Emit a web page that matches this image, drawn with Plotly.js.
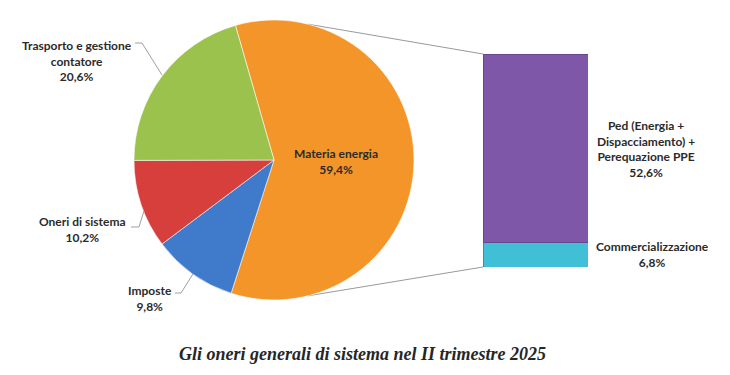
<!DOCTYPE html>
<html>
<head>
<meta charset="utf-8">
<script src="https://cdn.plot.ly/plotly-3.0.1.min.js"></script>
<style>
  html, body { margin: 0; padding: 0; background: #ffffff; }
  #chart { width: 730px; height: 375px; }
</style>
</head>
<body>
<div id="chart"></div>
<script>
// ---- data ----
const pieLabels = ["Materia energia", "Imposte", "Oneri di sistema", "Trasporto e gestione<br>contatore"];
const pieValues = [59.4, 9.8, 10.2, 20.6];
const pieColors = ["#F4952A", "#3F7ACB", "#D63F3C", "#9CC24E"];

const barLabels = ["Commercializzazione", "Ped (Energia +<br>Dispacciamento) +<br>Perequazione PPE"];
const barValues = [6.8, 52.6];
const barColors = ["#41BFD6", "#7F57A9"];

const captionText = "Gli oneri generali di sistema nel II trimestre 2025";

// ---- layout geometry (style) ----
const W = 730, H = 375;
const pieCx = 274, pieCy = 160, pieR = 140;
const pieRotation = -16;
const barX0 = 483, barX1 = 588, barTop = 54, barBottom = 267;

const fmt = v => v.toFixed(1).replace('.', ',') + '%';
const barTotal = barValues.reduce((a, b) => a + b, 0);

const pieTrace = {
  type: 'pie',
  labels: pieLabels,
  values: pieValues,
  sort: false,
  direction: 'clockwise',
  rotation: pieRotation,
  textinfo: 'none',
  hoverinfo: 'label+percent',
  showlegend: false,
  marker: { colors: pieColors, line: { color: 'rgba(255,255,255,0.55)', width: 1 } },
  domain: { x: [(pieCx - pieR) / W, (pieCx + pieR) / W], y: [1 - (pieCy + pieR) / H, 1 - (pieCy - pieR) / H] }
};

const barTraces = barValues.map((v, i) => ({
  type: 'bar',
  x: [0],
  y: [v],
  width: [1],
  name: barLabels[i],
  marker: { color: barColors[i], line: { color: 'rgba(60,40,90,0.35)', width: 1 } },
  showlegend: false,
  hoverinfo: 'name+y',
  xaxis: 'x', yaxis: 'y'
}));

// label annotations
const font = { family: 'Lato, "Open Sans", sans-serif', size: 12, color: '#2b2b2b', weight: 'bold' };
const labelPos = [
  { x: 336, y: 162 },   // Materia energia
  { x: 150, y: 298 },   // Imposte
  { x: 82, y: 230 },    // Oneri
  { x: 77, y: 61 }      // Trasporto
];
const annotations = [];
pieLabels.forEach((lab, i) => {
  annotations.push({
    xref: 'paper', yref: 'paper', x: labelPos[i].x / W, y: 1 - labelPos[i].y / H,
    xanchor: 'center', yanchor: 'middle', showarrow: false, align: 'center',
    text: '<b>' + lab + '<br>' + fmt(pieValues[i]) + '</b>', font: font
  });
});
const barLabelPos = [ { x: 652, y: 254 }, { x: 646, y: 149 } ];
barLabels.forEach((lab, i) => {
  annotations.push({
    xref: 'paper', yref: 'paper', x: barLabelPos[i].x / W, y: 1 - barLabelPos[i].y / H,
    xanchor: 'center', yanchor: 'middle', showarrow: false, align: 'center',
    text: '<b>' + lab + '<br>' + fmt(barValues[i]) + '</b>', font: font
  });
});
annotations.push({
  xref: 'paper', yref: 'paper', x: 362 / W, y: 1 - 354 / H,
  xanchor: 'center', yanchor: 'middle', showarrow: false,
  text: '<b><i>' + captionText + '</i></b>',
  font: { family: '"Liberation Serif", "DejaVu Serif", serif', size: 18, color: '#262626' }
});

// connector lines from the pie to the bar
const px = deg => (pieCx + pieR * Math.sin(deg * Math.PI / 180)) / W;
const py = deg => 1 - (pieCy - pieR * Math.cos(deg * Math.PI / 180)) / H;
const lineStyle = { color: '#9a9a9a', width: 1 };
const shapes = [
  { type: 'line', layer: 'below', xref: 'paper', yref: 'paper', x0: px(14), y0: py(14), x1: barX0 / W, y1: 1 - barTop / H, line: lineStyle },
  { type: 'line', layer: 'below', xref: 'paper', yref: 'paper', x0: px(166), y0: py(166), x1: barX0 / W, y1: 1 - barBottom / H, line: lineStyle }
];
// leader lines for outside labels
const leaders = [
  [[135, 43], [142, 43], [162, 75]],
  [[131, 227], [139, 227], [144, 211]],
  [[175, 293], [181, 293], [193, 274]]
];
leaders.forEach(pts => {
  let path = 'M' + pts.map(p => (p[0] / W).toFixed(5) + ',' + (1 - p[1] / H).toFixed(5)).join(' L');
  shapes.push({ type: 'path', xref: 'paper', yref: 'paper', path: path, line: { color: '#a0a0a0', width: 1 } });
});

const layout = {
  width: W, height: H,
  margin: { l: 0, r: 0, t: 0, b: 0 },
  paper_bgcolor: '#ffffff', plot_bgcolor: 'rgba(0,0,0,0)',
  barmode: 'stack',
  xaxis: { domain: [barX0 / W, barX1 / W], range: [-0.5, 0.5], visible: false, fixedrange: true },
  yaxis: { domain: [1 - barBottom / H, 1 - barTop / H], range: [0, barTotal], visible: false, fixedrange: true },
  annotations: annotations,
  shapes: shapes,
  showlegend: false
};

Plotly.newPlot('chart', [pieTrace].concat(barTraces), layout, { displayModeBar: false, staticPlot: true });
</script>
</body>
</html>
